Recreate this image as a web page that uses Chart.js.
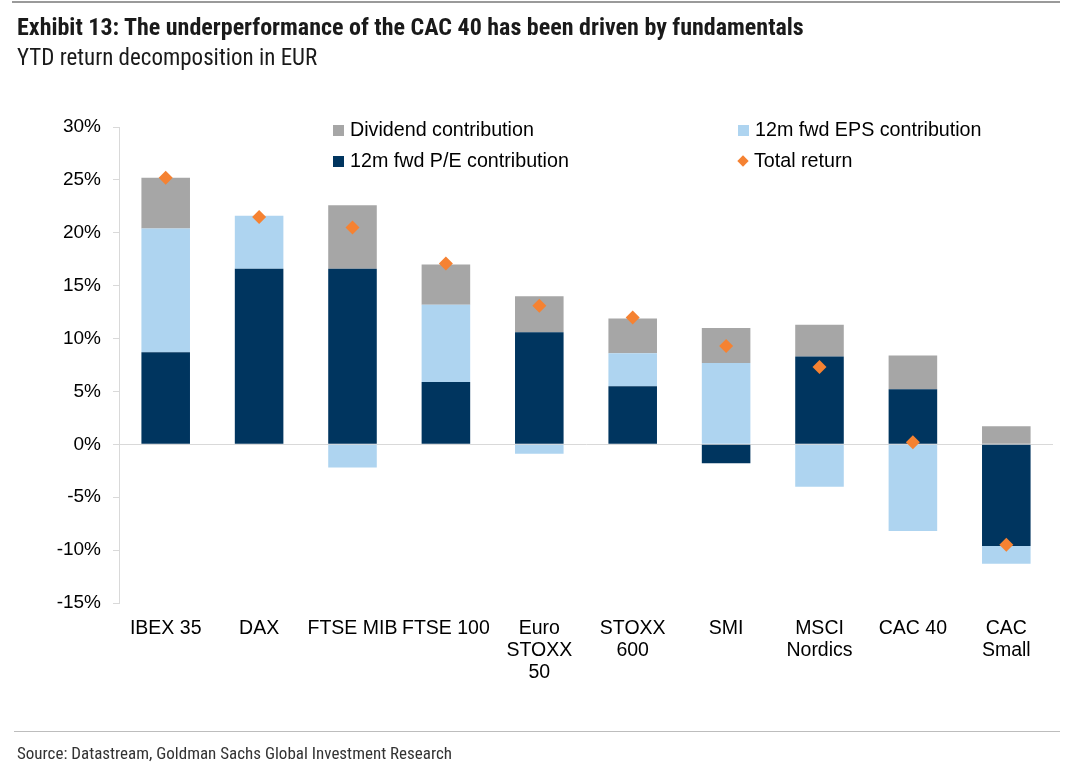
<!DOCTYPE html>
<html>
<head>
<meta charset="utf-8">
<script src="https://cdn.jsdelivr.net/npm/chart.js@4.4.1/dist/chart.umd.min.js"></script>
<style>
  html, body { margin: 0; padding: 0; background: #fff; }
  #wrap { position: relative; width: 1080px; height: 775px; overflow: hidden; font-family: "Liberation Sans", Arial, sans-serif; }
  #cv { position: absolute; left: 0; top: 0; }
  .narrow { font-family: "Liberation Sans Narrow", "Arial Narrow", "Roboto Condensed", "DejaVu Sans Condensed", sans-serif; font-stretch: condensed; }
  #topline { position: absolute; left: 12px; top: 1px; width: 1048px; height: 2px; background: #9a9a9a; }
  #title { position: absolute; left: 17px; top: 13px; font-size: 24px; font-weight: bold; color: #1a1a1a; white-space: nowrap; }
  #subtitle { position: absolute; left: 17px; top: 44px; font-size: 23px; color: #1a1a1a; white-space: nowrap; }
  #botline { position: absolute; left: 14px; top: 731px; width: 1046px; height: 1px; background: #bdbdbd; }
  #source { position: absolute; left: 17px; top: 743px; font-size: 17px; color: #333; white-space: nowrap; }
  .lg { position: absolute; font-size: 19.7px; color: #000; white-space: nowrap; line-height: 22px; }
  .sw { display: inline-block; width: 11px; height: 11px; margin-right: 6px; vertical-align: 0px; }
  .dm { display: inline-block; width: 8px; height: 8px; background: #f58232; transform: rotate(45deg); margin: 0 7px 0 3px; vertical-align: 2px; }
</style>
</head>
<body>
<div id="wrap">
  <canvas id="cv" width="1080" height="775"></canvas>
  <div id="topline"></div>
  <div id="title" class="narrow">Exhibit 13: The underperformance of the CAC 40 has been driven by fundamentals</div>
  <div id="subtitle" class="narrow">YTD return decomposition in EUR</div>
  <div class="lg" style="left:333px; top:118px;"><span class="sw" style="background:#a6a6a6"></span>Dividend contribution</div>
  <div class="lg" style="left:738px; top:118px;"><span class="sw" style="background:#aed4f0"></span>12m fwd EPS contribution</div>
  <div class="lg" style="left:333px; top:149px;"><span class="sw" style="background:#00355f"></span>12m fwd P/E contribution</div>
  <div class="lg" style="left:736px; top:149px;"><span class="dm"></span>Total return</div>
  <div id="botline"></div>
  <div id="source" class="narrow">Source: Datastream, Goldman Sachs Global Investment Research</div>
</div>
<script>
const categories = [["IBEX 35"], ["DAX"], ["FTSE MIB"], ["FTSE 100"], ["Euro", "STOXX", "50"], ["STOXX", "600"], ["SMI"], ["MSCI", "Nordics"], ["CAC 40"], ["CAC", "Small"]];
const peContribution = [8.7, 16.6, 16.6, 5.9, 10.6, 5.5, -1.8, 8.3, 5.2, -9.6];
const epsContribution = [11.7, 5.0, -2.2, 7.3, -0.9, 3.1, 7.7, -4.0, -8.2, -1.7];
const dividendContribution = [4.8, 0, 6.0, 3.8, 3.4, 3.3, 3.3, 3.0, 3.2, 1.7];
const totalReturn = [25.2, 21.5, 20.5, 17.1, 13.1, 12.0, 9.3, 7.3, 0.2, -9.5];
const yMin = -15, yMax = 30, yStep = 5;

const barCommon = { type: 'bar', stack: 'contrib', borderWidth: 0, barPercentage: 1, categoryPercentage: 0.52, order: 2 };

new Chart(document.getElementById('cv'), {
  data: {
    labels: categories,
    datasets: [
      Object.assign({ label: '12m fwd P/E contribution', data: peContribution, backgroundColor: '#00355f' }, barCommon),
      Object.assign({ label: '12m fwd EPS contribution', data: epsContribution, backgroundColor: '#aed4f0' }, barCommon),
      Object.assign({ label: 'Dividend contribution', data: dividendContribution, backgroundColor: '#a6a6a6' }, barCommon),
      { type: 'line', label: 'Total return', data: totalReturn, stack: 'total', showLine: false,
        pointStyle: 'rectRot', pointRadius: 7, pointHoverRadius: 7, pointBackgroundColor: '#f58232',
        pointBorderWidth: 0, borderColor: '#f58232', backgroundColor: '#f58232', order: 1 }
    ]
  },
  options: {
    responsive: false,
    animation: false,
    layout: { padding: { left: 0, right: 27, top: 127, bottom: 0 } },
    plugins: { legend: { display: false }, tooltip: { enabled: false } },
    scales: {
      x: {
        stacked: true,
        grid: { display: false },
        border: { display: false },
        ticks: { color: '#000', font: { family: '"Liberation Sans", Arial, sans-serif', size: 19.5, lineHeight: 1.13 }, padding: 7, maxRotation: 0, autoSkip: false },
        afterFit: s => { s.height = 172; }
      },
      y: {
        stacked: true,
        min: yMin, max: yMax,
        border: { display: true, color: '#d9d9d9', width: 1 },
        grid: {
          drawTicks: true, tickLength: 6, tickColor: '#d9d9d9',
          color: c => (c.tick && c.tick.value === 0) ? '#d9d9d9' : 'rgba(0,0,0,0)',
          lineWidth: 1
        },
        ticks: { stepSize: yStep, color: '#000', padding: 12, font: { family: '"Liberation Sans", Arial, sans-serif', size: 19 },
          callback: v => v + '%' },
        afterFit: s => { s.width = 119; }
      }
    }
  }
});
</script>
</body>
</html>
